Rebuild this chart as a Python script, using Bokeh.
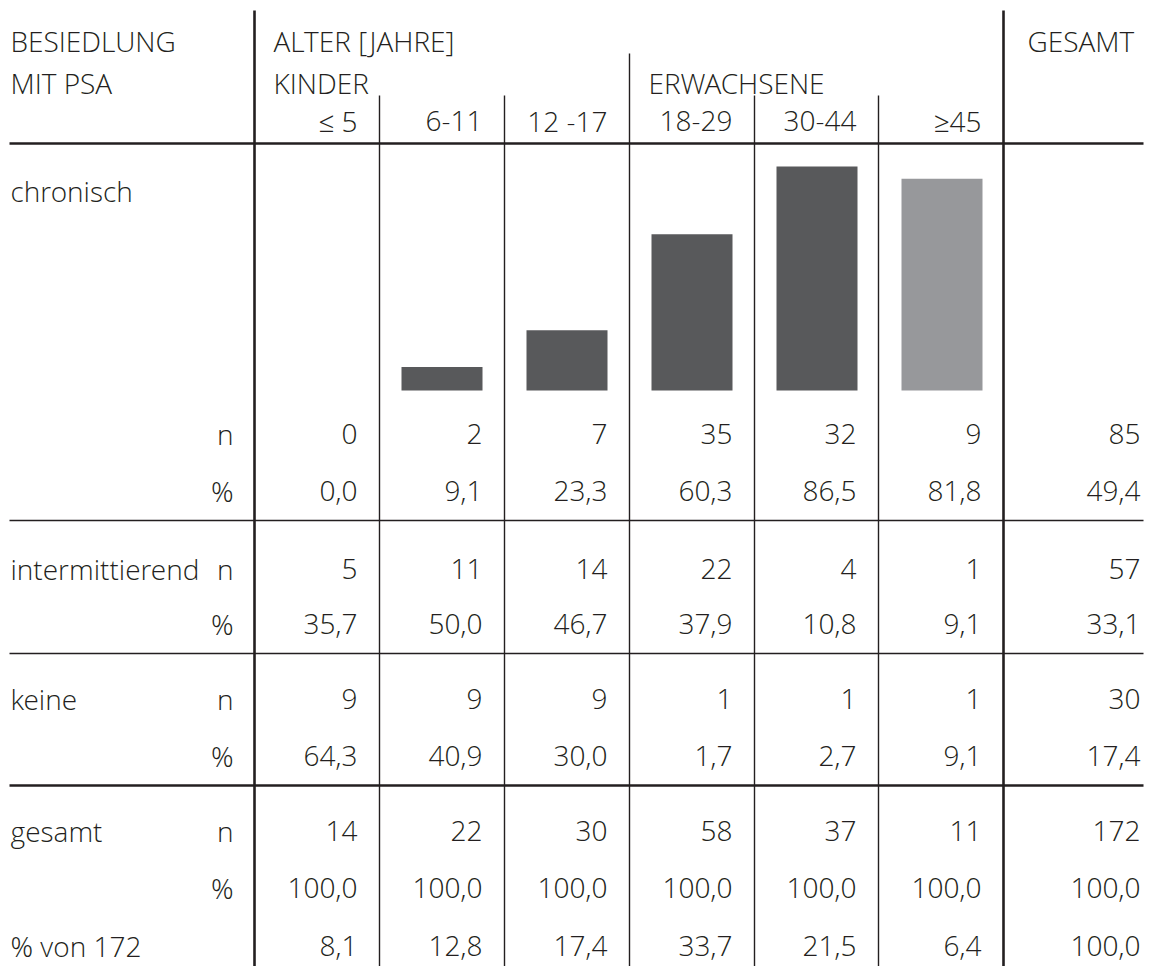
from bokeh.plotting import figure
from bokeh.models import Range1d
from bokeh.core.properties import value
from bokeh.embed import file_html
from bokeh.resources import INLINE

# ---------------- data ----------------
age_groups = ["\u2264 5", "6-11", "12 -17", "18-29", "30-44", "\u226545"]
chron_n = [0, 2, 7, 35, 32, 9, 85]
chron_pct = [0.0, 9.1, 23.3, 60.3, 86.5, 81.8, 49.4]
inter_n = [5, 11, 14, 22, 4, 1, 57]
inter_pct = [35.7, 50.0, 46.7, 37.9, 10.8, 9.1, 33.1]
keine_n = [9, 9, 9, 1, 1, 1, 30]
keine_pct = [64.3, 40.9, 30.0, 1.7, 2.7, 9.1, 17.4]
ges_n = [14, 22, 30, 58, 37, 11, 172]
ges_pct = [100.0, 100.0, 100.0, 100.0, 100.0, 100.0, 100.0]
von172_pct = [8.1, 12.8, 17.4, 33.7, 21.5, 6.4, 100.0]
bar_colors = ["#58595b", "#58595b", "#58595b", "#58595b", "#58595b", "#97989b"]

# ---------------- layout ----------------
FONT = "'Open Sans Light', 'Open Sans'"
FS = "28px"
TC = "#231f20"
LC = "#231f20"

X0, X1 = 0, 1151
Y0, Y1 = 0, 966
edges = [254, 379, 504, 629, 754, 878, 1003, 1143]
col_w = 125
col0_center = edges[0] + col_w / 2
px_per_pct = 2.59
bar_base = 390

p = figure(width=X1 - X0, height=Y1 - Y0,
           x_range=Range1d(X0, X1), y_range=Range1d(Y1, Y0),
           x_axis_type=None, y_axis_type=None,
           output_backend="svg", toolbar_location=None, min_border=0)
p.grid.visible = False
p.outline_line_color = None
p.background_fill_color = "white"
p.border_fill_color = "white"

p.extra_x_ranges = {"cols": Range1d((X0 - col0_center) / col_w, (X1 - col0_center) / col_w)}
p.extra_y_ranges = {"bars": Range1d((bar_base - Y1) / px_per_pct, (bar_base - Y0) / px_per_pct)}


def txt(xs, ys, texts, align="left"):
    p.text(x=xs, y=ys, text=texts, text_align=align, text_baseline="alphabetic",
           text_font=value(FONT), text_font_size=FS, text_color=TC)


def fmt1(v):
    return f"{v:.1f}".replace(".", ",")


# lines
hlines = [(143, 2.6), (520, 1.5), (653, 1.5), (785, 2.6)]
for y, w in hlines:
    p.segment(x0=[9], y0=[y], x1=[edges[-1]], y1=[y], line_color=LC, line_width=w)

p.segment(x0=[edges[0], edges[6]], y0=[10, 10], x1=[edges[0], edges[6]], y1=[Y1, Y1],
          line_color=LC, line_width=2.6)
thin_x = [edges[1], edges[2], edges[4], edges[5]]
p.segment(x0=thin_x, y0=[95] * 4, x1=thin_x, y1=[Y1] * 4, line_color=LC, line_width=1.4)
p.segment(x0=[edges[3]], y0=[53], x1=[edges[3]], y1=[Y1], line_color=LC, line_width=1.4)

# bars
p.vbar(x=list(range(6)), width=81 / col_w, top=chron_pct[:6], bottom=0,
       fill_color=bar_colors, line_color=None,
       x_range_name="cols", y_range_name="bars")

# header
txt([10, 273, 1027], [40, 40, 40], ["BESIEDLUNG", "ALTER [JAHRE]", "GESAMT"])
txt([10, 273, 648], [82, 82, 82], ["MIT PSA", "KINDER", "ERWACHSENE"])
right_x = [e - 22 for e in edges[1:7]] + [1140]
txt(right_x[:6], [120] * 6, age_groups, "right")

# row labels
txt([10, 10, 10, 10, 10], [190, 568, 698, 830, 945],
    ["chronisch", "intermittierend", "keine", "gesamt", "% von 172"])
lab_x = 233
txt([lab_x] * 8, [433, 490, 568, 623, 698, 755, 830, 887],
    ["n", "%", "n", "%", "n", "%", "n", "%"], "right")

# values
rows = [
    (433, [str(v) for v in chron_n]),
    (490, [fmt1(v) for v in chron_pct]),
    (568, [str(v) for v in inter_n]),
    (623, [fmt1(v) for v in inter_pct]),
    (698, [str(v) for v in keine_n]),
    (755, [fmt1(v) for v in keine_pct]),
    (830, [str(v) for v in ges_n]),
    (887, [fmt1(v) for v in ges_pct]),
    (945, [fmt1(v) for v in von172_pct]),
]
for y, texts in rows:
    txt(right_x, [y] * 7, texts, "right")

open("out.html", "w").write(file_html(p, INLINE))
